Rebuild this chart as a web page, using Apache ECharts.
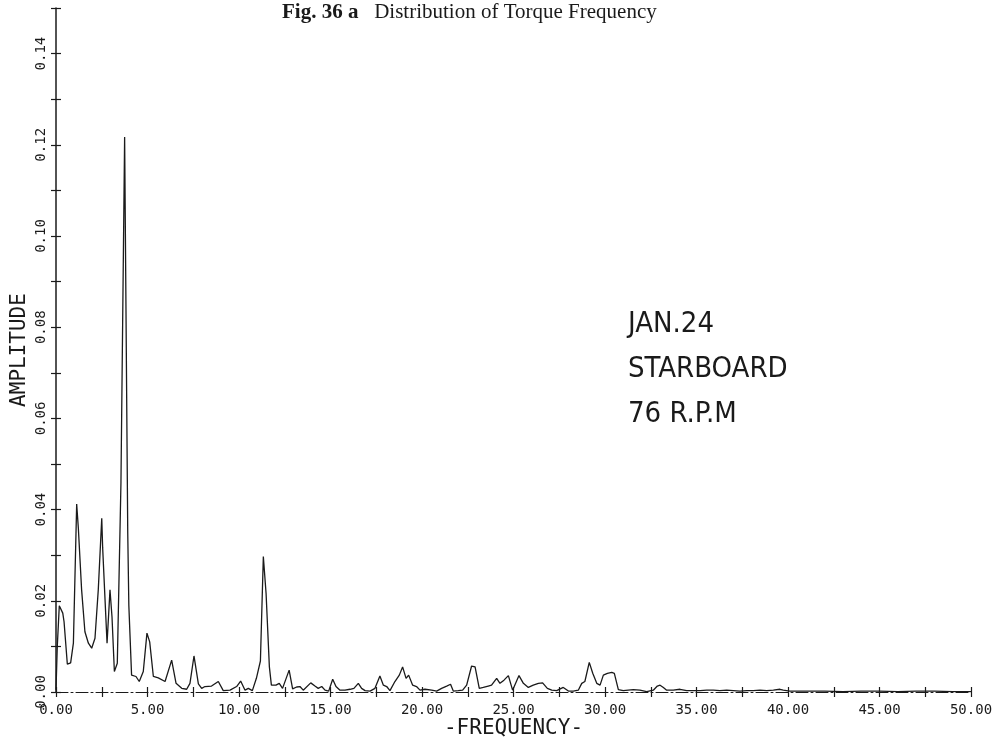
<!DOCTYPE html>
<html>
<head>
<meta charset="utf-8">
<script src="https://cdn.jsdelivr.net/npm/echarts@6/dist/echarts.min.js"></script>
<style>html,body{margin:0;padding:0;background:#fff}#c{width:1008px;height:742px}</style>
</head>
<body>
<div id="c"></div>
<script>
// Frequency (x) and amplitude (y)
const freqs = [0,0.07,0.18,0.37,0.44,0.62,0.8,0.95,1.13,1.22,1.4,1.58,1.77,1.95,2.13,2.31,2.5,2.55,2.68,2.79,2.95,3.06,3.19,3.35,3.55,3.75,3.92,3.98,4.13,4.37,4.55,4.77,4.97,5.12,5.32,5.59,5.96,6.32,6.56,6.87,7.14,7.32,7.54,7.78,7.96,8.14,8.5,8.87,9.14,9.51,9.87,10.09,10.33,10.51,10.73,10.95,11.17,11.33,11.48,11.66,11.77,12.02,12.2,12.38,12.74,12.93,13.15,13.33,13.51,13.92,14.15,14.33,14.52,14.7,14.9,15.12,15.3,15.52,15.79,16.07,16.28,16.52,16.7,16.89,17.16,17.43,17.7,17.89,18.07,18.25,18.52,18.76,18.94,19.13,19.27,19.49,19.7,19.89,20.16,20.25,20.53,20.8,21.07,21.35,21.56,21.71,21.98,22.22,22.44,22.71,22.9,23.13,23.35,23.62,23.8,24.08,24.26,24.48,24.72,24.95,25.3,25.54,25.81,26.08,26.36,26.59,26.85,27.09,27.36,27.72,28.0,28.27,28.54,28.73,28.9,29.14,29.33,29.55,29.73,29.91,30.13,30.37,30.51,30.73,31.0,31.27,31.55,31.91,32.28,32.64,32.86,33.01,33.19,33.37,33.73,34.1,34.46,34.83,35.2,35.56,35.92,36.28,36.65,37.01,37.38,37.74,38.1,38.47,38.84,39.2,39.56,39.74,40.1,41,42,43,44,45,46,47,48,49,50];
const amps = [0.0005,0.0100,0.0189,0.0173,0.0154,0.0061,0.0064,0.0107,0.0412,0.0360,0.0224,0.0132,0.0107,0.0096,0.0118,0.0224,0.0381,0.0316,0.0202,0.0107,0.0224,0.0165,0.0045,0.0063,0.0460,0.1217,0.0350,0.0190,0.0037,0.0034,0.0023,0.0045,0.0129,0.0110,0.0034,0.0031,0.0023,0.0070,0.0019,0.0008,0.0006,0.0019,0.0079,0.0018,0.0008,0.0012,0.0013,0.0023,0.0003,0.0004,0.0012,0.0024,0.0004,0.0008,0.0003,0.0030,0.0068,0.0297,0.0216,0.0055,0.0015,0.0015,0.0019,0.0008,0.0048,0.0007,0.0011,0.0012,0.0004,0.0020,0.0013,0.0008,0.0012,0.0004,0.0002,0.0028,0.0012,0.0004,0.0004,0.0006,0.0008,0.0019,0.0008,0.0003,0.0002,0.0008,0.0035,0.0015,0.0012,0.0003,0.0023,0.0037,0.0055,0.0030,0.0037,0.0015,0.0012,0.0004,0.0006,0.0010,0.0004,0.0002,0.0008,0.0013,0.0017,0.0002,0.0003,0.0004,0.0015,0.0057,0.0055,0.0008,0.0010,0.0013,0.0015,0.0030,0.0019,0.0026,0.0036,0.0004,0.0036,0.0019,0.0010,0.0015,0.0019,0.0020,0.0008,0.0004,0.0003,0.0010,0.0002,0.0002,0.0004,0.0019,0.0023,0.0065,0.0041,0.0019,0.0015,0.0037,0.0041,0.0043,0.0041,0.0005,0.0003,0.0004,0.0005,0.0004,0.0001,0.0004,0.0013,0.0015,0.0010,0.0004,0.0004,0.0006,0.0003,0.0003,0.0003,0.0004,0.0004,0.0003,0.0004,0.0003,0.0002,0.0003,0.0003,0.0004,0.0003,0.0004,0.0006,0.0004,0.0002,0.0002,0.0002,0.0001,0.0002,0.0002,0.0001,0.0002,0.0002,0.0001,0.0001,0.0001];
const titleMain = 'Distribution of Torque Frequency';
const titleFig = 'Fig. 36 a';
const notes = ['JAN.24', 'STARBOARD', '76 R.P.M'];
const xName = '-FREQUENCY-';
const yName = 'AMPLITUDE';

const ink = '#1a1a1a';
const mono = "'DejaVu Sans Mono', 'Liberation Mono', monospace";
const serif = "'Liberation Serif', 'DejaVu Serif', serif";
const chart = echarts.init(document.getElementById('c'));
const xLabel = v => (Math.abs(v / 5 - Math.round(v / 5)) < 1e-6) ? v.toFixed(2) : '';
const yLabel = v => (Math.round(v * 100) % 2 === 0) ? v.toFixed(2) : '';

chart.setOption({
  animation: false,
  backgroundColor: '#fff',
  title: {
    text: '{b|' + titleFig + '}   ' + titleMain,
    left: 277, top: -3,
    textStyle: {
      fontFamily: serif, fontSize: 21, fontWeight: 'normal', color: ink,
      rich: {b: {fontFamily: serif, fontSize: 21, fontWeight: 'bold', color: ink}}
    }
  },
  grid: {left: 56, right: 37, top: 8, bottom: 50, outerBoundsMode: 'none', containLabel: false},
  xAxis: [{
    type: 'value', min: 0, max: 50, interval: 2.5,
    name: xName, nameLocation: 'middle', nameGap: 26, nameMoveOverlap: false,
    nameTextStyle: {fontFamily: mono, fontSize: 21, color: ink},
    axisLine: {onZero: false, lineStyle: {color: ink, width: 1, type: [12, 3, 2, 3]}},
    axisTick: {inside: false, length: 5, lineStyle: {color: ink, width: 1.2}},
    axisLabel: {formatter: xLabel, fontFamily: mono, fontSize: 14, color: ink, margin: 11, showMinLabel: true, showMaxLabel: true},
    splitLine: {show: false}
  }, {
    type: 'value', min: 0, max: 50, interval: 2.5, position: 'bottom',
    axisLine: {show: false},
    axisTick: {inside: true, length: 5, lineStyle: {color: ink, width: 1.2}},
    axisLabel: {show: false}, splitLine: {show: false}
  }],
  yAxis: [{
    type: 'value', min: 0, max: 0.15, interval: 0.01,
    name: yName, nameLocation: 'middle', nameGap: 26, nameRotate: 90, nameMoveOverlap: false,
    nameTextStyle: {fontFamily: mono, fontSize: 21, color: ink},
    axisLine: {show: true, lineStyle: {color: ink, width: 1.5}},
    axisTick: {inside: false, length: 5, lineStyle: {color: ink, width: 1.2}},
    axisLabel: {formatter: yLabel, rotate: 90, fontFamily: mono, fontSize: 14, color: ink, margin: 8, showMinLabel: true, showMaxLabel: true},
    splitLine: {show: false}
  }, {
    type: 'value', min: 0, max: 0.15, interval: 0.01, position: 'left',
    axisLine: {show: false},
    axisTick: {inside: true, length: 5, lineStyle: {color: ink, width: 1.2}},
    axisLabel: {show: false}, splitLine: {show: false}
  }],
  graphic: notes.map((t, i) => ({
    type: 'text', left: 628, top: 310 + i * 45,
    style: {text: t, fill: ink, font: "29px 'Liberation Sans Narrow', 'DejaVu Sans Condensed', 'Liberation Sans', sans-serif"}
  })),
  series: [{
    type: 'line', xAxisIndex: 0, yAxisIndex: 0,
    data: freqs.map((f, i) => [f, amps[i]]),
    showSymbol: false, smooth: false,
    lineStyle: {color: ink, width: 1.3},
    z: 3
  }]
});
</script>
</body>
</html>
